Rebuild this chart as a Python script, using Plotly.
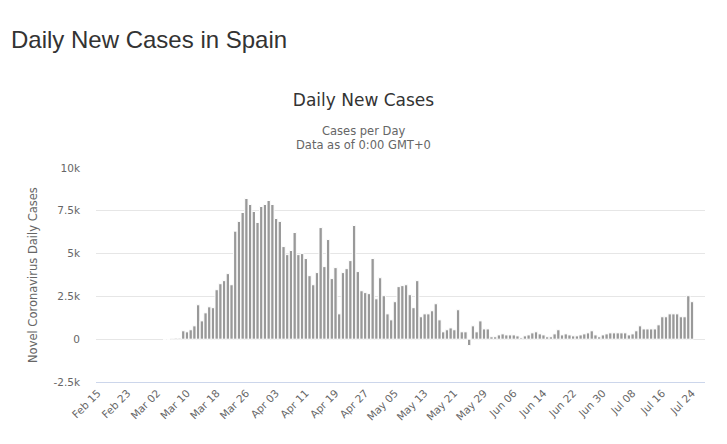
import pandas as pd
import plotly.graph_objects as go

start_date = "2020-02-15"
daily_new_cases = [
    None, None, None, None, None, None, None, None, None, None,
    None, None, None, None, None, None, None, None, 0, 0,
    50, 60, 60, 490, 430, 550, 780, 2010, 1070, 1540,
    1890, 1840, 2890, 3240, 3420, 3830, 3180, 6310, 6880, 7400,
    8220, 7870, 7460, 6820, 7750, 7870, 8100, 7870, 7050, 6880,
    5410, 4940, 5180, 6230, 4940, 5000, 4710, 3710, 3180, 3890,
    6520, 4240, 5820, 3540, 4180, 1480, 3890, 4120, 4590, 6640,
    3950, 2830, 2720, 2660, 4710, 2360, 3590, 2540, 1480, 1130,
    2190, 3070, 3130, 3180, 2600, 1840, 3420, 1310, 1480, 1480,
    1660, 2070, 1130, 430, 550, 660, 550, 1720, 430, 430,
    -372, 780, 430, 1070, 600, 600, 140, 140, 250, 310,
    250, 250, 250, 195, 80, 195, 250, 370, 430, 310,
    250, 140, 140, 310, 550, 250, 310, 250, 195, 195,
    250, 310, 370, 490, 250, 140, 250, 310, 370, 370,
    370, 370, 370, 250, 310, 490, 780, 600, 600, 600,
    600, 840, 1310, 1310, 1480, 1480, 1480, 1310, 1310, 2540,
    2190,
]
x_tick_labels = ["Feb 15", "Feb 23", "Mar 02", "Mar 10", "Mar 18", "Mar 26", "Apr 03",
                 "Apr 11", "Apr 19", "Apr 27", "May 05", "May 13", "May 21", "May 29",
                 "Jun 06", "Jun 14", "Jun 22", "Jun 30", "Jul 08", "Jul 16", "Jul 24"]
y_tick_values = [-2500, 0, 2500, 5000, 7500, 10000]
y_tick_labels = ["-2.5k", "0", "2.5k", "5k", "7.5k", "10k"]

dates = pd.date_range(start_date, periods=len(daily_new_cases), freq="D")
tick_dates = pd.date_range(start_date, periods=len(x_tick_labels), freq="8D")

W, H = 727, 444
L, R, T, B = 96, 22, 168, 62
ph = H - T - B

def py(ypix):
    return (H - B - ypix) / ph

def px(xpix):
    return (xpix - L) / (W - L - R)

fig = go.Figure()
fig.add_trace(go.Bar(
    x=dates, y=daily_new_cases,
    marker=dict(color="#999999", line=dict(color="#ffffff", width=1)),
    showlegend=False,
))

axis_font = dict(family="DejaVu Sans", size=10.5, color="#666666")
fig.update_layout(
    width=W, height=H,
    margin=dict(l=L, r=R, t=T, b=B, pad=0),
    paper_bgcolor="#ffffff", plot_bgcolor="#ffffff",
    bargap=0.1,
    title=dict(text="Daily New Cases", x=363.5 / W, xanchor="center", xref="container",
               y=(H - 100) / H, yanchor="middle", yref="container",
               font=dict(family="DejaVu Sans", size=17, color="#333333")),
    xaxis=dict(
        range=[pd.Timestamp("2020-02-14 12:00"), pd.Timestamp("2020-07-27 12:00")],
        tickvals=tick_dates, ticktext=x_tick_labels, tickangle=-45,
        tickfont=axis_font, showgrid=False, zeroline=False,
        showline=True, linecolor="#ccd6eb", linewidth=1, ticks="",
    ),
    yaxis=dict(
        range=[-2500, 10000], tickvals=y_tick_values, ticktext=y_tick_labels,
        tickfont=axis_font, showgrid=True, gridcolor="#e6e6e6", gridwidth=1,
        zeroline=False, showline=False, ticks="", ticklabelstandoff=15,
    ),
    annotations=[
        dict(text="Daily New Cases in Spain", xref="paper", yref="paper",
             x=px(9), y=py(39), xanchor="left", yanchor="middle", showarrow=False,
             font=dict(family="Liberation Sans", size=24, color="#333333")),
        dict(text="Cases per Day", xref="paper", yref="paper",
             x=px(363.5), y=py(131), xanchor="center", yanchor="middle", showarrow=False,
             font=dict(family="DejaVu Sans", size=11.5, color="#666666")),
        dict(text="Data as of 0:00 GMT+0", xref="paper", yref="paper",
             x=px(363.5), y=py(145), xanchor="center", yanchor="middle", showarrow=False,
             font=dict(family="DejaVu Sans", size=11.5, color="#666666")),
        dict(text="Novel Coronavirus Daily Cases", xref="paper", yref="paper",
             x=px(33), y=0.5, xanchor="center", yanchor="middle", textangle=-90,
             showarrow=False,
             font=dict(family="DejaVu Sans", size=11.5, color="#666666")),
    ],
)

fig.write_html("out.html", config={"displayModeBar": False},
               post_script="document.body.style.margin='0';")
